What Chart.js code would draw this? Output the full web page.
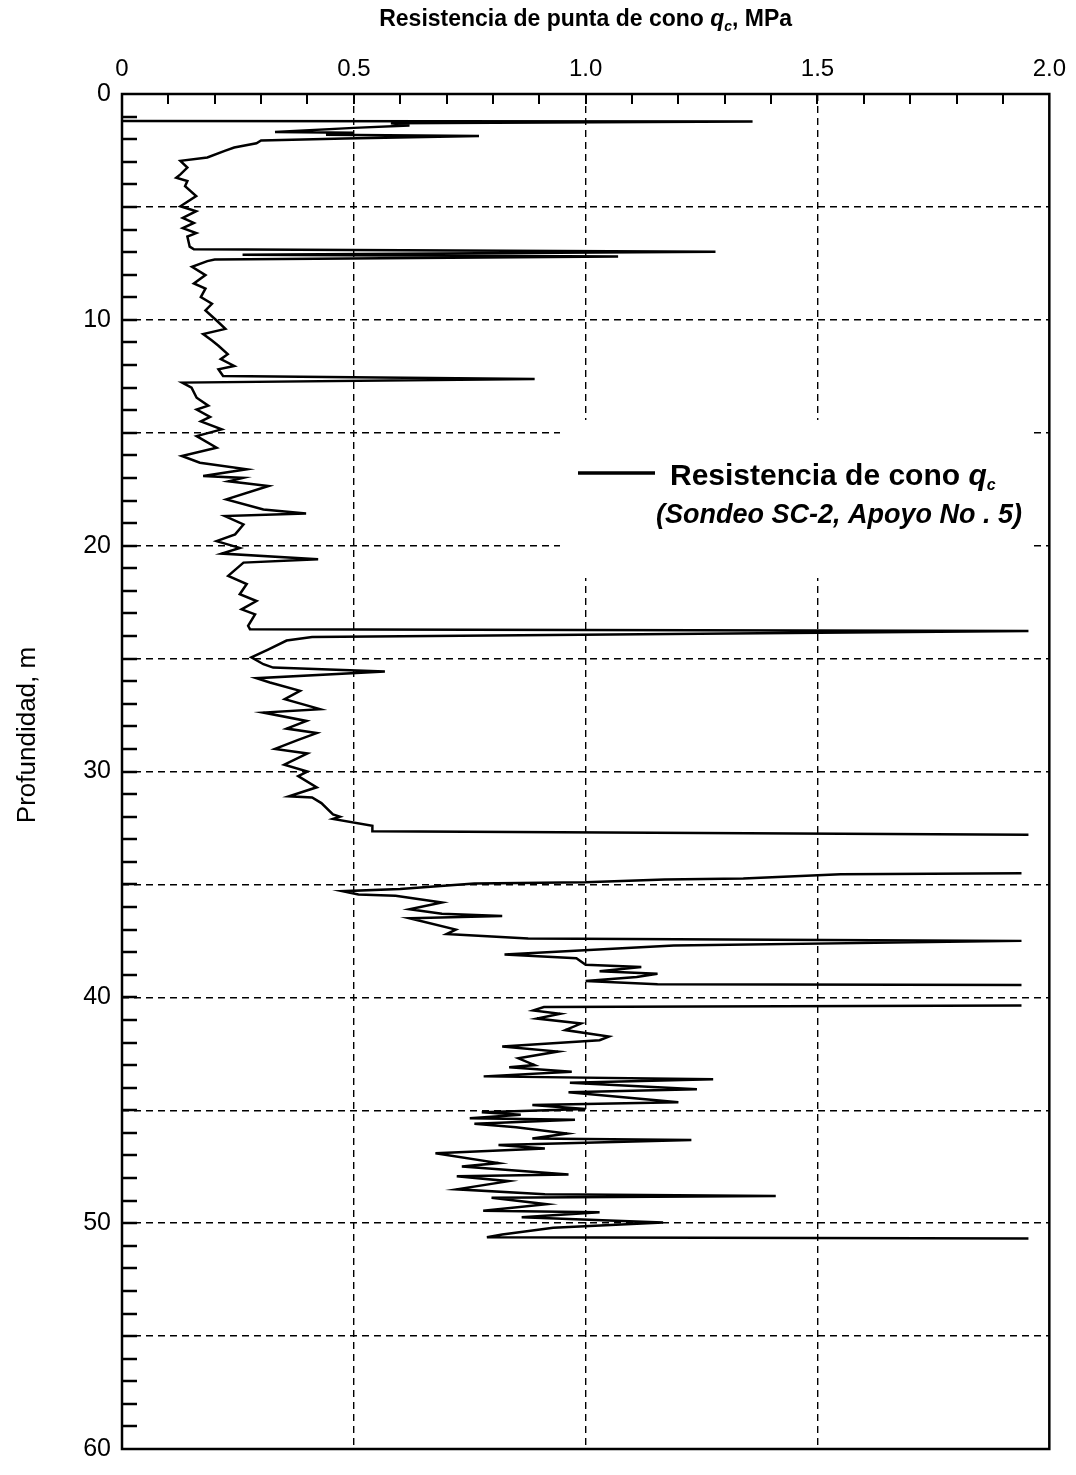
<!DOCTYPE html>
<html>
<head>
<meta charset="utf-8">
<script src="https://cdn.jsdelivr.net/npm/chart.js@4.4.0/dist/chart.umd.min.js"></script>
<style>
  html, body { margin: 0; padding: 0; background: #fff; }
  canvas { display: block; }
</style>
</head>
<body>
<canvas id="cptChart" width="1076" height="1475"></canvas>
<script>
const depthM = [
  1.20, 1.22, 1.30, 1.40, 1.50, 1.68, 1.72, 1.80, 1.86, 1.97, 2.06, 2.18, 2.37, 2.51, 2.81, 2.96,
  3.26, 3.56, 3.71, 3.85, 4.08, 4.52, 4.97, 5.19, 5.49, 5.71, 5.94, 6.16, 6.31, 6.76, 6.88, 6.98,
  7.12, 7.20, 7.33, 7.40, 7.65, 8.02, 8.39, 8.62, 8.99, 9.29, 9.58, 10.03, 10.40, 10.63, 10.92, 11.15,
  11.52, 11.74, 12.04, 12.19, 12.49, 12.62, 12.78, 13.00, 13.45, 13.80, 13.97, 14.30, 14.50, 14.85,
  15.15, 15.66, 16.03, 16.33, 16.62, 16.92, 17.00, 17.15, 17.36, 17.95, 18.40, 18.58, 18.69, 19.06,
  19.50, 19.80, 20.10, 20.35, 20.60, 20.75, 21.34, 21.70, 22.15, 22.45, 22.82, 23.04, 23.55, 23.70,
  23.78, 24.04, 24.20, 24.60, 24.95, 25.25, 25.40, 25.57, 25.87, 26.06, 26.43, 26.80, 27.24, 27.39,
  27.76, 28.10, 28.30, 28.60, 29.00, 29.20, 29.70, 30.00, 30.20, 30.70, 31.10, 31.15, 31.40, 31.90,
  32.00, 32.10, 32.40, 32.65, 32.80, 33.60,
  34.50, 34.55, 34.74, 34.78, 34.90, 34.96, 35.20, 35.30, 35.45, 35.50, 35.80, 36.10, 36.30, 36.40,
  36.50, 37.00, 37.20, 37.40, 37.50, 37.70, 38.10, 38.27, 38.56, 38.66, 38.85, 38.96, 39.10, 39.28,
  39.42, 39.45, 39.90,
  40.36, 40.43, 40.58, 40.73, 40.94, 41.16, 41.45, 41.74, 41.90, 42.18, 42.40, 42.70, 43.00, 43.10,
  43.30, 43.50, 43.63, 43.78, 44.07, 44.20, 44.65, 44.77, 44.94, 45.09, 45.20, 45.35, 45.42, 45.60,
  45.75, 46.03, 46.25, 46.32, 46.54, 46.69, 46.90, 47.34, 47.49, 47.85, 47.92, 48.14, 48.50, 48.72,
  48.80, 48.87, 49.16, 49.45, 49.52, 49.74, 49.97, 50.20, 50.50, 50.62, 50.68
];
const qcMPa = [
  0.00, 1.36, 0.58, 0.62, 0.50, 0.33, 0.50, 0.44, 0.77, 0.48, 0.30, 0.29, 0.242, 0.223, 0.184, 0.126,
  0.141, 0.126, 0.117, 0.141, 0.136, 0.160, 0.126, 0.160, 0.131, 0.155, 0.131, 0.160, 0.141, 0.146, 0.155, 1.28,
  0.26, 1.07, 0.20, 0.184, 0.151, 0.180, 0.155, 0.180, 0.170, 0.194, 0.180, 0.204, 0.223, 0.175, 0.194, 0.208,
  0.228, 0.213, 0.242, 0.208, 0.218, 0.89, 0.13, 0.150, 0.161, 0.186, 0.161, 0.190, 0.170, 0.215,
  0.161, 0.204, 0.129, 0.168, 0.269, 0.175, 0.261, 0.230, 0.316, 0.225, 0.305, 0.397, 0.222, 0.262,
  0.244, 0.204, 0.254, 0.215, 0.423, 0.262, 0.229, 0.269, 0.254, 0.290, 0.258, 0.287, 0.272, 0.276,
  1.955, 0.41, 0.355, 0.315, 0.279, 0.305, 0.326, 0.567, 0.290, 0.319, 0.384, 0.351, 0.427, 0.305,
  0.398, 0.355, 0.420, 0.380, 0.330, 0.400, 0.350, 0.400, 0.380, 0.420, 0.360, 0.410, 0.430, 0.455,
  0.470, 0.455, 0.540, 0.540, 1.955, null,
  1.94, 1.55, 1.34, 1.17, 1.00, 0.76, 0.60, 0.475, 0.51, 0.59, 0.69, 0.62, 0.69, 0.82,
  0.62, 0.72, 0.70, 0.876, 1.94, 1.19, 0.825, 0.98, 1.00, 1.12, 1.03, 1.155, 1.11, 1.00,
  1.155, 1.94, null,
  1.94, 0.91, 0.887, 0.945, 0.895, 0.99, 0.956, 1.05, 1.03, 0.82, 0.94, 0.855, 0.89, 0.835,
  0.97, 0.78, 1.275, 0.966, 1.24, 0.963, 1.20, 0.885, 1.00, 0.776, 0.86, 0.75, 0.977, 0.76,
  0.85, 0.96, 0.885, 1.228, 0.812, 0.912, 0.676, 0.812, 0.733, 0.963, 0.722, 0.834, 0.722, 0.912,
  1.41, 0.797, 0.916, 0.779, 1.03, 0.862, 1.167, 0.93, 0.82, 0.787, 1.955
];

const xTickLabels = ['0', '0.5', '1.0', '1.5', '2.0'];
const yTickLabels = ['0', '10', '20', '30', '40', '50', '60'];

const FONT = '"Liberation Sans", Arial, sans-serif';

const points = depthM.map((d, i) => ({ x: qcMPa[i], y: d }));

function isStep(v, step) {
  return Math.abs(v / step - Math.round(v / step)) < 1e-6;
}

// draws text made of styled pieces (used for q with subscript c)
function drawRich(ctx, parts, x, y, align) {
  let total = 0;
  parts.forEach(p => { ctx.font = p.font; total += ctx.measureText(p.text).width; });
  let cx = align === 'center' ? x - total / 2 : align === 'right' ? x - total : x;
  ctx.textAlign = 'left';
  ctx.textBaseline = 'alphabetic';
  parts.forEach(p => {
    ctx.font = p.font;
    ctx.fillText(p.text, cx, y + (p.dy || 0));
    cx += ctx.measureText(p.text).width;
  });
}

const decorPlugin = {
  id: 'decor',
  beforeDatasetsDraw(chart) {
    // white panel of the legend hides the grid behind it
    const ctx = chart.ctx;
    ctx.save();
    ctx.fillStyle = '#fff';
    ctx.fillRect(560, 420, 472, 158);
    ctx.restore();
  },
  afterDraw(chart) {
    const ctx = chart.ctx;
    const a = chart.chartArea;
    const xs = chart.scales.x;
    const ys = chart.scales.y;
    ctx.save();
    ctx.strokeStyle = '#000';
    ctx.fillStyle = '#000';

    // inward tick marks
    ctx.lineWidth = 2;
    ctx.beginPath();
    xs.ticks.forEach(t => {
      const px = Math.round(xs.getPixelForValue(t.value));
      if (px <= a.left + 2 || px >= a.right - 2) return;
      ctx.moveTo(px, a.top);
      ctx.lineTo(px, a.top + 10);
    });
    ctx.stroke();
    ctx.lineWidth = 2.5;
    ctx.beginPath();
    ys.ticks.forEach(t => {
      const py = Math.round(ys.getPixelForValue(t.value));
      if (py <= a.top + 2 || py >= a.bottom - 2) return;
      ctx.moveTo(a.left, py);
      ctx.lineTo(a.left + 15, py);
    });
    ctx.stroke();

    // frame
    ctx.lineWidth = 2.5;
    ctx.strokeRect(a.left, a.top, a.right - a.left, a.bottom - a.top);

    // top axis title
    const cx = (a.left + a.right) / 2;
    drawRich(ctx, [
      { text: 'Resistencia de punta de cono ', font: 'bold 23px ' + FONT },
      { text: 'q', font: 'italic bold 23px ' + FONT },
      { text: 'c', font: 'italic bold 14px ' + FONT, dy: 5 },
      { text: ', MPa', font: 'bold 23px ' + FONT }
    ], cx, 26, 'center');

    // left axis title
    ctx.save();
    ctx.translate(35, 735);
    ctx.rotate(-Math.PI / 2);
    ctx.font = '26px ' + FONT;
    ctx.textAlign = 'center';
    ctx.textBaseline = 'alphabetic';
    ctx.fillText('Profundidad, m', 0, 0);
    ctx.restore();

    // legend
    ctx.lineWidth = 3.5;
    ctx.beginPath();
    ctx.moveTo(578, 473);
    ctx.lineTo(655, 473);
    ctx.stroke();
    drawRich(ctx, [
      { text: 'Resistencia de cono ', font: 'bold 30px ' + FONT },
      { text: 'q', font: 'italic bold 30px ' + FONT },
      { text: 'c', font: 'italic bold 16px ' + FONT, dy: 5 }
    ], 670, 485, 'left');
    ctx.font = 'italic bold 27px ' + FONT;
    ctx.textAlign = 'right';
    ctx.fillText('(Sondeo SC-2, Apoyo No . 5)', 1022, 523);
    ctx.restore();
  }
};

new Chart(document.getElementById('cptChart'), {
  type: 'scatter',
  data: {
    datasets: [{
      label: 'Resistencia de cono qc',
      data: points,
      showLine: true,
      spanGaps: false,
      borderColor: '#000',
      borderWidth: 2.5,
      pointRadius: 0,
      tension: 0,
      fill: false
    }]
  },
  options: {
    responsive: false,
    animation: false,
    devicePixelRatio: 1,
    layout: { padding: { left: 0, top: 0, right: 26, bottom: 17 } },
    plugins: {
      legend: { display: false },
      tooltip: { enabled: false }
    },
    scales: {
      x: {
        type: 'linear',
        position: 'top',
        min: 0,
        max: 2,
        afterFit: s => { s.height = 94; },
        ticks: {
          stepSize: 0.1,
          autoSkip: false,
          maxRotation: 0,
          padding: 10,
          color: '#000',
          font: { family: FONT, size: 24 },
          callback: v => isStep(v, 0.5) ? xTickLabels[Math.round(v / 0.5)] : ''
        },
        grid: {
          drawTicks: false,
          lineWidth: 1.4,
          color: c => (c.tick && isStep(c.tick.value, 0.5) && c.tick.value > 0.01 && c.tick.value < 1.99) ? '#000' : 'rgba(0,0,0,0)'
        },
        border: { display: false, dash: [7, 5] }
      },
      y: {
        type: 'linear',
        reverse: true,
        min: 0,
        max: 60,
        afterFit: s => { s.width = 122; },
        ticks: {
          stepSize: 1,
          autoSkip: false,
          padding: 11,
          color: '#000',
          font: { family: FONT, size: 25 },
          callback: v => isStep(v, 10) ? yTickLabels[Math.round(v / 10)] : ''
        },
        grid: {
          drawTicks: false,
          lineWidth: 1.4,
          color: c => (c.tick && isStep(c.tick.value, 5) && c.tick.value > 0 && c.tick.value < 60) ? '#000' : 'rgba(0,0,0,0)'
        },
        border: { display: false, dash: [7, 5] }
      }
    }
  },
  plugins: [decorPlugin]
});
</script>
</body>
</html>
